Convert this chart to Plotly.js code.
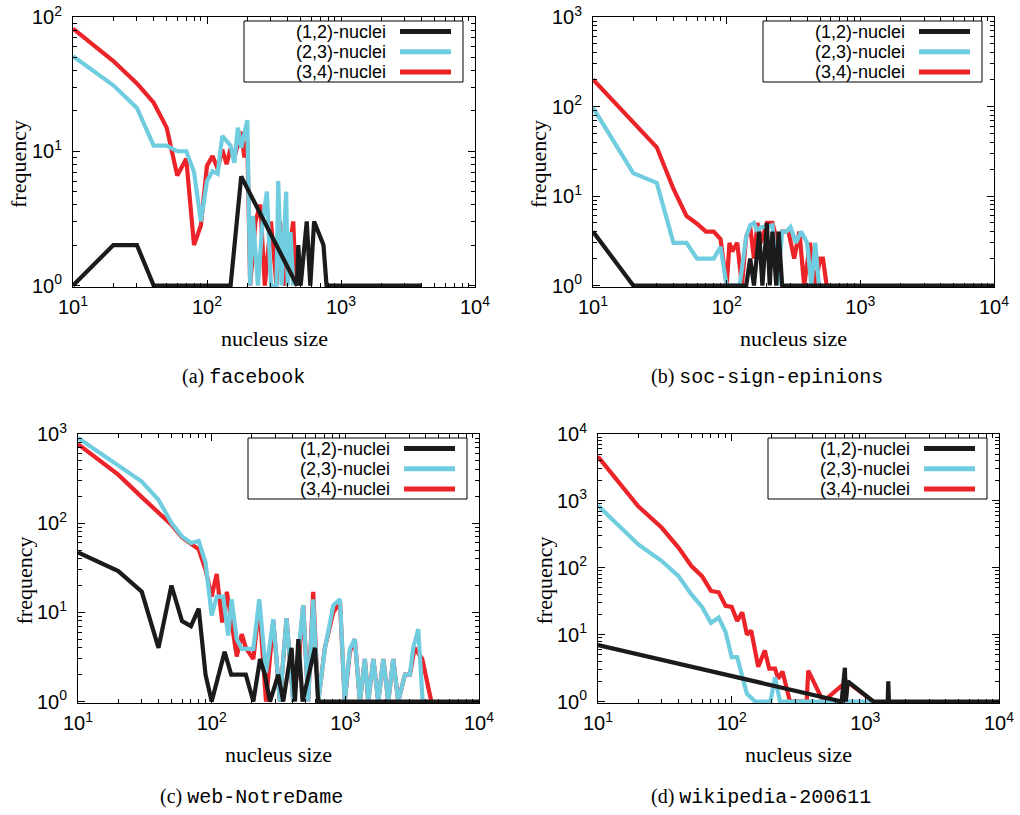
<!DOCTYPE html>
<html><head><meta charset="utf-8">
<script src="https://cdn.plot.ly/plotly-3.0.1.min.js"></script>
<style>html,body{margin:0;padding:0;background:#fff}#chart{width:1020px;height:815px}</style>
</head><body><div id="chart"></div>
<script>
// ---------------- data ----------------
const seriesNames = ['(1,2)-nuclei', '(2,3)-nuclei', '(3,4)-nuclei'];
const captionLabels = ['(a)', '(b)', '(c)', '(d)'];
const datasetNames = ['facebook', 'soc-sign-epinions', 'web-NotreDame', 'wikipedia-200611'];
const xTickVals = [10, 100, 1000, 10000];
const xTickText = ['10<sup>1</sup>', '10<sup>2</sup>', '10<sup>3</sup>', '10<sup>4</sup>'];
const yTopExponent = [2, 3, 3, 4];
const xTitle = 'nucleus size';
const yTitle = 'frequency';

// (a) facebook
const a_x_12 = [10,20,30,40,150,180,470,480,500,555,590,630,740,780,4000];
const a_y_12 = [1,2,2,1,1,6.5,1,2,1,3,1,3,2,1,1];
const a_x_23 = [10,20,30,40,50,60,70,80,90,100,110,120,130,150,160,170,180,190,200,210,220,240,260,280,300,330,340,360,390,400,420,440];
const a_y_23 = [51,31,21,11,11,10,10,7,3,6,7.1,6.8,13,11,8.2,15,10.6,14,17,1,3.3,1,3,5,1,1,6,1,5,1,2.5,1];
const a_x_34 = [10,20,30,40,50,60,70,80,90,100,110,120,130,140,150,160,180,190,200,210,230,250,270,300,330,350,380,420,440,460];
const a_y_34 = [82,47,32,23,15,6.6,8.8,2,2.8,7.8,9.2,7.4,10.3,8,10.5,9,14,9,12,1,3,4,1,3,1,3,1,2,3,1];

// (b) soc-sign-epinions
const b_x_12 = [10,20,140,150,160,175,185,200,210,220,235,245,260,10000];
const b_y_12 = [4,1,1,2,1,4,1,5,1,4,1,4,1,1];
const b_x_23 = [10,20,30,40,50,60,80,90,100,125,140,150,160,170,180,200,220,240,260,280,300,330,360,400,430,460,490];
const b_y_23 = [97,18,14,3,3,2,2,2.7,1,1,3.5,4.7,5,4,4.5,4.5,4.7,1,4,4,4.5,3,4,3,1,3,1];
const b_x_34 = [10,20,30,40,50,60,70,80,90,100,105,110,120,130,140,150,160,170,180,200,220,240,260,290,320,350,380,420,460,500,525,560];
const b_y_34 = [200,66,35,12,6,4.9,4,4,3.3,1,3,2.4,3,1,3.5,4.5,2,5,3,5,5,3,4,4,2,4,1,3,1,2,2,1];

// (c) web-NotreDame
const c_x_12 = [10,20,30,40,50,60,70,80,90,100,125,140,180,205,230,250,273,315,343,396,420,445,479,593,627,10000];
const c_y_12 = [47,29,17,4,20,8,7,11,2,1,3.6,2,2,1,3,2,1,2,1,4,1,5,1,4,1,1];
const c_x_23 = [10,20,30,40,50,60,70,80,90,100,109,122,133,141,154,168,205,227,255,289,324,363,408,484,527,575,627,703,813,912,990,1081,1178,1285,1400,1484,1620,1763,1923,2096,2282,2488,2792,3041,3220,3513,3787];
const c_y_23 = [900,450,293,183,101,71,60,63,36,9.2,15,15,5.5,14,5,3.9,3.9,14,2.1,8.4,1,8.6,1,12,1,14,1,3.9,12,14,1,3.9,5,1,3,1,3,1,3,1,3,1,2,2,4,6.5,1];
const c_x_34 = [10,20,30,40,50,60,70,80,90,100,109,120,130,140,154,168,180,205,227,255,289,324,363,408,450,484,527,575,627,703,813,912,990,1081,1178,1285,1400,1484,1620,1763,1923,2096,2282,2488,2792,3041,3300,3760,4400];
const c_y_34 = [771,350,196,130,96,69,58,51,30,15,27,7.7,17,8,3.2,5.7,4,3,12,1,8,1,8.6,1,3,12,1,17,1,4,10,13,1,3.6,5,1,3,1,3,1,3,1,3,1,2,2,4,3,1];

// (d) wikipedia-200611
const d_x_12 = [10,665,703,715,740,1146,1470,1485,1500,10000];
const d_y_12 = [7,1,3.2,1,2,1,1,2,1,1];
const d_x_23 = [10,20,30,40,50,60,70,80,90,100,110,120,130,150,195,211,230,1146];
const d_y_23 = [850,223,126,75,40,26,15,18,11,4.6,4.6,2.2,1.3,1,1,2.3,1,1];
const d_x_34 = [10,20,30,40,50,60,70,80,90,100,110,120,130,140,158,177,191,211,223,240,273,364,374,408,484,724,1146];
const d_y_34 = [4600,830,396,200,106,75,45,43,27,26,16,21.5,10,11.5,3.3,5.8,3.1,3.1,2.2,2.8,1,1,2.9,2,1,2,1];

// ---------------- assembly ----------------
const panelData = [
  [[a_x_12, a_y_12], [a_x_23, a_y_23], [a_x_34, a_y_34]],
  [[b_x_12, b_y_12], [b_x_23, b_y_23], [b_x_34, b_y_34]],
  [[c_x_12, c_y_12], [c_x_23, c_y_23], [c_x_34, c_y_34]],
  [[d_x_12, d_y_12], [d_x_23, d_y_23], [d_x_34, d_y_34]]
];

// styles / geometry (pixels in the 1020x815 page)
const W = 1020, H = 815;
const colors = ['#1b1b1b', '#70cde0', '#ec2328'];
const lineW = 4.2;
const boxes = [
  {l: 73, r: 475, t: 17, b: 287},
  {l: 593, r: 994, t: 17, b: 287},
  {l: 78, r: 479, t: 434, b: 703},
  {l: 598, r: 999, t: 434, b: 703}
];
const captionX = [243, 767, 251, 761];
const captionY = [377, 377, 797, 797];
const px = x => x / W;
const py = y => 1 - y / H;

const tickFont = {family: 'Liberation Sans, Arial, sans-serif', size: 20, color: '#000'};
const legendFont = {family: 'Liberation Sans, Arial, sans-serif', size: 18, color: '#000'};
const legendRowGap = 20.2;
const serif = 'Liberation Serif, Times New Roman, serif';
const mono = 'Liberation Mono, DejaVu Sans Mono, monospace';

const traces = [];
const layout = {
  width: W, height: H,
  margin: {l: 0, r: 0, t: 0, b: 0},
  paper_bgcolor: '#fff', plot_bgcolor: '#fff',
  showlegend: false,
  annotations: [], shapes: []
};

const drawOrder = [2, 1, 0]; // red below, cyan, black on top
boxes.forEach((bx, i) => {
  const n = i + 1;
  const xa = 'xaxis' + (n === 1 ? '' : n), ya = 'yaxis' + (n === 1 ? '' : n);
  const xr = 'x' + (n === 1 ? '' : n), yr = 'y' + (n === 1 ? '' : n);
  const top = yTopExponent[i];
  const eps = 1.5 * top / (bx.b - bx.t);
  const axisCommon = {
    type: 'log', showgrid: false, zeroline: false,
    showline: true, linecolor: '#000', linewidth: 1, mirror: 'ticks',
    ticks: 'inside', ticklen: 7, tickwidth: 1, tickcolor: '#000',
    tickfont: tickFont,
    minor: {ticks: 'inside', ticklen: 4, tickwidth: 1, tickcolor: '#000', dtick: 'D1', showgrid: false}
  };
  const yVals = [], yText = [];
  for (let e = 0; e <= top; e++) { yVals.push(Math.pow(10, e)); yText.push('10<sup>' + e + '</sup>'); }
  layout[xa] = Object.assign({}, axisCommon, {
    domain: [px(bx.l), px(bx.r)], anchor: yr, range: [1, 4],
    tickmode: 'array', tickvals: xTickVals, ticktext: xTickText, ticklabelstandoff: 2
  });
  layout[ya] = Object.assign({}, axisCommon, {
    domain: [py(bx.b), py(bx.t)], anchor: xr, range: [-eps, top],
    tickmode: 'array', tickvals: yVals, ticktext: yText, ticklabelstandoff: 6
  });

  drawOrder.forEach(s => {
    traces.push({
      type: 'scatter', mode: 'lines', name: seriesNames[s],
      x: panelData[i][s][0], y: panelData[i][s][1],
      xaxis: xr, yaxis: yr,
      line: {color: colors[s], width: lineW, shape: 'linear'},
      hoverinfo: 'skip'
    });
  });

  // axis titles
  layout.annotations.push({
    xref: 'paper', yref: 'paper', x: px((bx.l + bx.r) / 2), y: py(bx.b + 51),
    text: xTitle, showarrow: false, xanchor: 'center', yanchor: 'middle',
    font: {family: serif, size: 22, color: '#000'}
  });
  layout.annotations.push({
    xref: 'paper', yref: 'paper', x: px(bx.l - 54), y: py((bx.t + bx.b) / 2 + 12),
    text: yTitle, showarrow: false, textangle: -90, xanchor: 'center', yanchor: 'middle',
    font: {family: serif, size: 22, color: '#000'}
  });
  // caption
  layout.annotations.push({
    xref: 'paper', yref: 'paper', x: px(captionX[i]), y: py(captionY[i]),
    text: captionLabels[i] + ' <span style="font-family:' + mono + '">' + datasetNames[i] + '</span>',
    showarrow: false, xanchor: 'center', yanchor: 'middle',
    font: {family: serif, size: 20, color: '#000'}
  });

  // legend (text right-aligned, line sample on the right, framed)
  layout.shapes.push({
    type: 'rect', xref: 'paper', yref: 'paper',
    x0: px(bx.r - 231), x1: px(bx.r - 12), y0: py(bx.t + 4), y1: py(bx.t + 65),
    line: {color: '#000', width: 1}, fillcolor: '#fff', layer: 'above'
  });
  [0, 1, 2].forEach(s => {
    const ry = bx.t + 14.5 + s * legendRowGap;
    layout.annotations.push({
      xref: 'paper', yref: 'paper', x: px(bx.r - 88), y: py(ry),
      text: seriesNames[s], showarrow: false, xanchor: 'right', yanchor: 'middle',
      borderpad: 0, font: legendFont
    });
    layout.shapes.push({
      type: 'line', xref: 'paper', yref: 'paper',
      x0: px(bx.r - 75), x1: px(bx.r - 24), y0: py(ry), y1: py(ry),
      line: {color: colors[s], width: 5}, layer: 'above'
    });
  });
});

Plotly.newPlot('chart', traces, layout, {displayModeBar: false, staticPlot: true});
</script>
</body></html>
